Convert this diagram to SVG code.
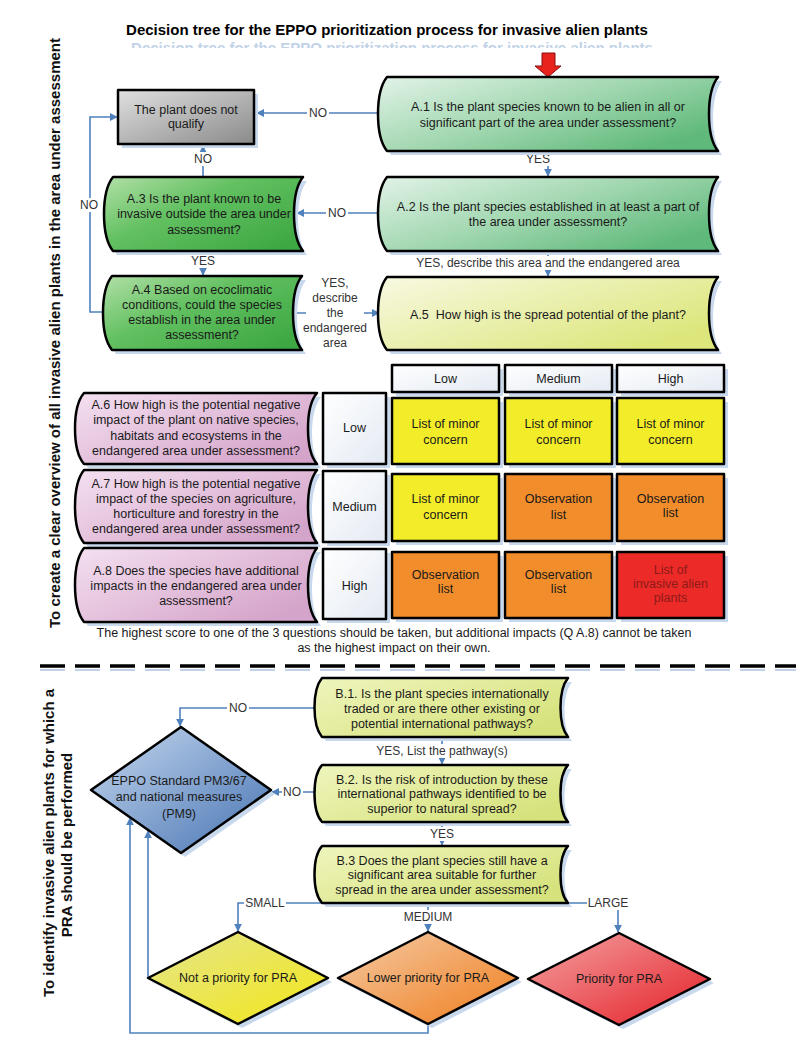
<svg xmlns="http://www.w3.org/2000/svg" width="800" height="1046" viewBox="0 0 800 1046">
<defs>
<style>
text{font-family:"Liberation Sans",Arial,sans-serif;}
.t{font-size:12.5px;fill:#1a1a1a;text-anchor:middle;}
.lb{font-size:12px;fill:#333;text-anchor:middle;}
.ttl{font-size:15px;font-weight:bold;fill:#000;text-anchor:middle;}
.side{font-size:15px;font-weight:bold;fill:#111;text-anchor:middle;}
.b{stroke:#000;stroke-width:2.5;stroke-linejoin:round;}
.sh{fill:#c8d8ed;stroke:none;}
.c{fill:none;stroke:#4f81bd;stroke-width:1.6;}
.ca{fill:none;stroke:#4f81bd;stroke-width:1.6;marker-end:url(#ah);}
.bg{fill:#fff;stroke:none;}
</style>
<marker id="ah" viewBox="0 0 10 10" refX="9" refY="5" markerWidth="8" markerHeight="8" markerUnits="userSpaceOnUse" orient="auto">
<path d="M0,0 L10,5 L0,10 z" fill="#4f81bd"/>
</marker>
<linearGradient id="gGreenL" x1="0" y1="0" x2="1" y2="0.7"><stop offset="0" stop-color="#e2f3e8"/><stop offset="0.55" stop-color="#9fd6ae"/><stop offset="1" stop-color="#5fb97a"/></linearGradient>
<linearGradient id="gGreenD" x1="0" y1="0" x2="1" y2="0.8"><stop offset="0" stop-color="#b2e0a8"/><stop offset="0.45" stop-color="#62c060"/><stop offset="1" stop-color="#3ea843"/></linearGradient>
<linearGradient id="gYel" x1="0" y1="0" x2="1" y2="0.7"><stop offset="0" stop-color="#f8f9e2"/><stop offset="1" stop-color="#dce67a"/></linearGradient>
<linearGradient id="gBY" x1="0" y1="0" x2="1" y2="0.7"><stop offset="0" stop-color="#eff5bd"/><stop offset="1" stop-color="#d6e27c"/></linearGradient>
<linearGradient id="gPink" x1="0" y1="0" x2="1" y2="0.7"><stop offset="0" stop-color="#f4e0f0"/><stop offset="1" stop-color="#d5a4ca"/></linearGradient>
<linearGradient id="gGrey" x1="0" y1="0" x2="1" y2="1"><stop offset="0" stop-color="#e0e0e0"/><stop offset="1" stop-color="#8a8a8a"/></linearGradient>
<linearGradient id="gWhite" x1="0" y1="0" x2="1" y2="1"><stop offset="0" stop-color="#ffffff"/><stop offset="1" stop-color="#e4eaf3"/></linearGradient>
<linearGradient id="gBlue" x1="0" y1="0" x2="1" y2="1"><stop offset="0" stop-color="#c6d8ef"/><stop offset="1" stop-color="#4673b2"/></linearGradient>
<linearGradient id="gDY" x1="0" y1="0" x2="1" y2="1"><stop offset="0" stop-color="#e4e58e"/><stop offset="1" stop-color="#f3e716"/></linearGradient>
<linearGradient id="gOr" x1="0" y1="0" x2="1" y2="1"><stop offset="0" stop-color="#f4cba6"/><stop offset="1" stop-color="#f07d1c"/></linearGradient>
<linearGradient id="gRed" x1="0" y1="0" x2="1" y2="1"><stop offset="0" stop-color="#f4a3a3"/><stop offset="1" stop-color="#e41e26"/></linearGradient>
<clipPath id="refl"><rect x="100" y="41" width="600" height="7"/></clipPath>
</defs>
<rect width="800" height="1046" fill="#fff"/>

<g id="title">
<text class="ttl" x="392" y="53" style="fill:#c2d3e8" clip-path="url(#refl)">Decision tree for the EPPO prioritization process for invasive alien plants</text>
<text class="ttl" x="387" y="35">Decision tree for the EPPO prioritization process for invasive alien plants</text>
</g>

<g id="side-labels">
<text class="side" transform="translate(60,333) rotate(-90)">To create a clear overview of all invasive alien plants in the area under assessment</text>
<text class="side" transform="translate(54,843) rotate(-90)">To identify invasive alien plants for which a</text>
<text class="side" transform="translate(72,845) rotate(-90)">PRA should be performed</text>
</g>

<g id="separator">
<line x1="40" y1="670" x2="796" y2="670" stroke="#bfd2ea" stroke-width="2" stroke-dasharray="25 10"/>
<line x1="40" y1="666" x2="796" y2="666" stroke="#000" stroke-width="3.5" stroke-dasharray="25 10"/>
</g>

<g id="connectors">
<polygon points="542,53 555,53 555,66 561,66 548,77 535,66 542,66" fill="#e8221c" stroke="#8a1010" stroke-width="1"/>
<path class="ca" d="M379,113 H257"/>
<path class="ca" d="M548,151 V176"/>
<path class="ca" d="M381,213 H297"/>
<path class="ca" d="M203,177 V146"/>
<path class="ca" d="M548,251 V276"/>
<path class="ca" d="M203,251 V275"/>
<path class="ca" d="M294,313 H379"/>
<path class="ca" d="M102,312 H90 V117 H117"/>
<path class="ca" d="M316,708 H180 V726"/>
<path class="ca" d="M442,737 V764"/>
<path class="ca" d="M316,792 H272"/>
<path class="ca" d="M442,822 V845"/>
<path class="ca" d="M322,903 H238 V931"/>
<path class="ca" d="M428,903 V931"/>
<path class="ca" d="M568,903 H618 V932"/>
<path class="ca" d="M148,977 V831"/>
<path class="ca" d="M428,1024 V1033 H130 V818"/>
<rect class="bg" x="307" y="106" width="22" height="14"/><text class="lb" x="318" y="117.3">NO</text>
<rect class="bg" x="524" y="152" width="28" height="14"/><text class="lb" x="538" y="163.3">YES</text>
<rect class="bg" x="326" y="206" width="22" height="14"/><text class="lb" x="337" y="217.3">NO</text>
<rect class="bg" x="192" y="152" width="22" height="14"/><text class="lb" x="203" y="163.3">NO</text>
<rect class="bg" x="189" y="254" width="28" height="14"/><text class="lb" x="203" y="265.3">YES</text>
<rect class="bg" x="408" y="256" width="280" height="14"/><text class="lb" x="548" y="267.3">YES, describe this area and the endangered area</text>
<rect class="bg" x="79" y="198" width="22" height="14"/><text class="lb" x="89" y="209.3">NO</text>
<rect class="bg" x="306" y="276" width="58" height="74"/>
<text class="lb" x="335" y="287.3">YES,</text>
<text class="lb" x="335" y="302.3">describe</text>
<text class="lb" x="335" y="317.3">the</text>
<text class="lb" x="335" y="332.3">endangered</text>
<text class="lb" x="335" y="347.3">area</text>
<rect class="bg" x="227" y="701" width="22" height="14"/><text class="lb" x="238" y="712.3">NO</text>
<rect class="bg" x="372" y="744" width="140" height="14"/><text class="lb" x="442" y="755.3">YES, List the pathway(s)</text>
<rect class="bg" x="282" y="785" width="21" height="14"/><text class="lb" x="292" y="796.3">NO</text>
<rect class="bg" x="428" y="827" width="28" height="14"/><text class="lb" x="442" y="838.3">YES</text>
<rect class="bg" x="244" y="896" width="42" height="14"/><text class="lb" x="265" y="907.3">SMALL</text>
<rect class="bg" x="404" y="910" width="48" height="14"/><text class="lb" x="428" y="921.3">MEDIUM</text>
<rect class="bg" x="587" y="896" width="42" height="14"/><text class="lb" x="608" y="907.3">LARGE</text>
</g>

<g id="not-qualify">
<rect class="sh" x="122" y="94" width="136" height="54"/>
<rect class="b" x="118" y="90" width="136" height="54" fill="url(#gGrey)"/>
<text class="t" x="186" y="113.5">The plant does not</text>
<text class="t" x="186" y="128">qualify</text>
</g>

<g id="A1">
<path class="sh" transform="translate(4,4)" d="M387,77 H718 C706,92 706,136 718,151 H387 C375,136 375,92 387,77 Z"/>
<path class="b" fill="url(#gGreenL)" d="M387,77 H718 C706,92 706,136 718,151 H387 C375,136 375,92 387,77 Z"/>
<text class="t" x="548" y="110.5">A.1 Is the plant species known to be alien in all or</text>
<text class="t" x="548" y="126.5">significant part of the area under assessment?</text>
</g>

<g id="A2">
<path class="sh" transform="translate(4,4)" d="M387,177 H718 C706,192 706,236 718,251 H387 C375,236 375,192 387,177 Z"/>
<path class="b" fill="url(#gGreenL)" d="M387,177 H718 C706,192 706,236 718,251 H387 C375,236 375,192 387,177 Z"/>
<text class="t" x="548" y="210.5">A.2 Is the plant species established in at least a part of</text>
<text class="t" x="548" y="225.5">the area under assessment?</text>
</g>

<g id="A3">
<path class="sh" transform="translate(4,4)" d="M113,177 H303 C291,192 291,236 303,251 H113 C101,236 101,192 113,177 Z"/>
<path class="b" fill="url(#gGreenD)" d="M113,177 H303 C291,192 291,236 303,251 H113 C101,236 101,192 113,177 Z"/>
<text class="t" x="204" y="202.5">A.3 Is the plant known to be</text>
<text class="t" x="204" y="218">invasive outside the area under</text>
<text class="t" x="204" y="233.5">assessment?</text>
</g>

<g id="A4">
<path class="sh" transform="translate(4,4)" d="M112,276 H302 C290,291 290,335 302,350 H112 C100,335 100,291 112,276 Z"/>
<path class="b" fill="url(#gGreenD)" d="M112,276 H302 C290,291 290,335 302,350 H112 C100,335 100,291 112,276 Z"/>
<text class="t" x="202" y="293.5">A.4 Based on ecoclimatic</text>
<text class="t" x="202" y="308.5">conditions, could the species</text>
<text class="t" x="202" y="323.5">establish in the area under</text>
<text class="t" x="202" y="338.5">assessment?</text>
</g>

<g id="A5">
<path class="sh" transform="translate(4,4)" d="M387,277 H718 C706,292 706,335 718,350 H387 C375,335 375,292 387,277 Z"/>
<path class="b" fill="url(#gYel)" d="M387,277 H718 C706,292 706,335 718,350 H387 C375,335 375,292 387,277 Z"/>
<text class="t" x="548" y="318.5" style="white-space:pre">A.5  How high is the spread potential of the plant?</text>
</g>

<g id="col-headers">
<rect class="sh" x="396" y="369" width="107" height="27"/>
<rect class="sh" x="509" y="369" width="107" height="27"/>
<rect class="sh" x="621" y="369" width="107" height="27"/>
<rect class="b" x="392" y="365" width="107" height="27" fill="url(#gWhite)"/>
<rect class="b" x="505" y="365" width="107" height="27" fill="url(#gWhite)"/>
<rect class="b" x="617" y="365" width="107" height="27" fill="url(#gWhite)"/>
<text class="t" x="445.5" y="383">Low</text>
<text class="t" x="558.5" y="383">Medium</text>
<text class="t" x="670.5" y="383">High</text>
</g>

<g id="A6">
<path class="sh" transform="translate(4,4)" d="M84,393 H317 C305,407 305,450 317,464 H84 C72,450 72,407 84,393 Z"/>
<path class="b" fill="url(#gPink)" d="M84,393 H317 C305,407 305,450 317,464 H84 C72,450 72,407 84,393 Z"/>
<text class="t" x="196" y="408.5">A.6 How high is the potential negative</text>
<text class="t" x="196" y="424">impact of the plant on native species,</text>
<text class="t" x="196" y="439.5">habitats and ecosystems in the</text>
<text class="t" x="196" y="455">endangered area under assessment?</text>
</g>

<g id="A7">
<path class="sh" transform="translate(4,4)" d="M84,470 H317 C305,485 305,528 317,543 H84 C72,528 72,485 84,470 Z"/>
<path class="b" fill="url(#gPink)" d="M84,470 H317 C305,485 305,528 317,543 H84 C72,528 72,485 84,470 Z"/>
<text class="t" x="196" y="487.5">A.7 How high is the potential negative</text>
<text class="t" x="196" y="502.5">impact of the species on agriculture,</text>
<text class="t" x="196" y="517.5">horticulture and forestry in the</text>
<text class="t" x="196" y="532.5">endangered area under assessment?</text>
</g>

<g id="A8">
<path class="sh" transform="translate(4,4)" d="M84,548 H317 C305,563 305,607 317,622 H84 C72,607 72,563 84,548 Z"/>
<path class="b" fill="url(#gPink)" d="M84,548 H317 C305,563 305,607 317,622 H84 C72,607 72,563 84,548 Z"/>
<text class="t" x="196" y="574.5">A.8 Does the species have additional</text>
<text class="t" x="196" y="589.5">impacts in the endangered area under</text>
<text class="t" x="196" y="604.5">assessment?</text>
</g>

<g id="row-headers">
<rect class="sh" x="327" y="397" width="63" height="71"/>
<rect class="sh" x="327" y="475" width="63" height="71"/>
<rect class="sh" x="327" y="553" width="63" height="70"/>
<rect class="b" x="323" y="393" width="63" height="71" fill="url(#gWhite)"/>
<rect class="b" x="323" y="471" width="63" height="71" fill="url(#gWhite)"/>
<rect class="b" x="323" y="549" width="63" height="70" fill="url(#gWhite)"/>
<text class="t" x="354.5" y="431.5">Low</text>
<text class="t" x="354.5" y="510.5">Medium</text>
<text class="t" x="354.5" y="589.5">High</text>
</g>

<g id="matrix">
<g fill="#c8d8ed">
<rect x="396" y="402" width="107" height="66"/><rect x="509" y="402" width="107" height="66"/><rect x="621" y="402" width="107" height="66"/>
<rect x="396" y="478" width="107" height="67"/><rect x="509" y="478" width="107" height="67"/><rect x="621" y="478" width="107" height="67"/>
<rect x="396" y="556" width="107" height="66"/><rect x="509" y="556" width="107" height="66"/><rect x="621" y="556" width="107" height="66"/>
</g>
<rect class="b" x="392" y="398" width="107" height="66" fill="#f3ec29"/>
<rect class="b" x="505" y="398" width="107" height="66" fill="#f3ec29"/>
<rect class="b" x="617" y="398" width="107" height="66" fill="#f3ec29"/>
<rect class="b" x="392" y="474" width="107" height="67" fill="#f3ec29"/>
<rect class="b" x="505" y="474" width="107" height="67" fill="#f28d2b"/>
<rect class="b" x="617" y="474" width="107" height="67" fill="#f28d2b"/>
<rect class="b" x="392" y="552" width="107" height="66" fill="#f28d2b"/>
<rect class="b" x="505" y="552" width="107" height="66" fill="#f28d2b"/>
<rect class="b" x="617" y="552" width="107" height="66" fill="#ec2a27"/>
<text class="t" x="445.5" y="427.5">List of minor</text><text class="t" x="445.5" y="443.5">concern</text>
<text class="t" x="558.5" y="427.5">List of minor</text><text class="t" x="558.5" y="443.5">concern</text>
<text class="t" x="670.5" y="427.5">List of minor</text><text class="t" x="670.5" y="443.5">concern</text>
<text class="t" x="445.5" y="502.5">List of minor</text><text class="t" x="445.5" y="518.5">concern</text>
<text class="t" x="558.5" y="502.5">Observation</text><text class="t" x="558.5" y="518.5">list</text>
<text class="t" x="670.5" y="502.5">Observation</text><text class="t" x="670.5" y="517">list</text>
<text class="t" x="445.5" y="578.5">Observation</text><text class="t" x="445.5" y="593">list</text>
<text class="t" x="558.5" y="578.5">Observation</text><text class="t" x="558.5" y="593">list</text>
<text class="t" x="670.5" y="573.5" style="fill:#8e1a1a">List of</text>
<text class="t" x="670.5" y="587.5" style="fill:#8e1a1a">invasive alien</text>
<text class="t" x="670.5" y="602" style="fill:#8e1a1a">plants</text>
</g>

<g id="footnote">
<text class="t" x="394" y="637">The highest score to one of the 3 questions should be taken, but additional impacts (Q A.8) cannot be taken</text>
<text class="t" x="394" y="652">as the highest impact on their own.</text>
</g>

<g id="B1">
<path class="sh" transform="translate(4,4)" d="M322,678 H568 C558,690 558,725 568,737 H322 C312,725 312,690 322,678 Z"/>
<path class="b" fill="url(#gBY)" d="M322,678 H568 C558,690 558,725 568,737 H322 C312,725 312,690 322,678 Z"/>
<text class="t" x="442" y="697.5">B.1. Is the plant species internationally</text>
<text class="t" x="442" y="712.5">traded or are there other existing or</text>
<text class="t" x="442" y="727.5">potential international pathways?</text>
</g>

<g id="B2">
<path class="sh" transform="translate(4,4)" d="M322,765 H568 C558,776 558,811 568,822 H322 C312,811 312,776 322,765 Z"/>
<path class="b" fill="url(#gBY)" d="M322,765 H568 C558,776 558,811 568,822 H322 C312,811 312,776 322,765 Z"/>
<text class="t" x="442" y="783.5">B.2. Is the risk of introduction by these</text>
<text class="t" x="442" y="798">international pathways identified to be</text>
<text class="t" x="442" y="812.5">superior to natural spread?</text>
</g>

<g id="B3">
<path class="sh" transform="translate(4,4)" d="M322,846 H568 C558,857 558,892 568,903 H322 C312,892 312,857 322,846 Z"/>
<path class="b" fill="url(#gBY)" d="M322,846 H568 C558,857 558,892 568,903 H322 C312,892 312,857 322,846 Z"/>
<text class="t" x="442" y="864.5">B.3 Does the plant species still have a</text>
<text class="t" x="442" y="879">significant area suitable for further</text>
<text class="t" x="442" y="894">spread in the area under assessment?</text>
</g>

<g id="EPPO">
<polygon class="sh" points="185,731 275,794 185,857 95,794"/>
<polygon class="b" fill="url(#gBlue)" points="181,727 271,790 181,853 91,790"/>
<text class="t" x="179" y="784.5">EPPO Standard PM3/67</text>
<text class="t" x="179" y="801">and national measures</text>
<text class="t" x="179" y="817.5">(PM9)</text>
</g>

<g id="not-priority">
<polygon class="sh" points="242,936 332,982 242,1028 152,982"/>
<polygon class="b" fill="url(#gDY)" points="238,932 328,978 238,1024 148,978"/>
<text class="t" x="238" y="982">Not a priority for PRA</text>
</g>

<g id="lower-priority">
<polygon class="sh" points="432,936 522,982 432,1028 342,982"/>
<polygon class="b" fill="url(#gOr)" points="428,932 518,978 428,1024 338,978"/>
<text class="t" x="428" y="982">Lower priority for PRA</text>
</g>

<g id="priority">
<polygon class="sh" points="623,937 714,983 623,1029 532,983"/>
<polygon class="b" fill="url(#gRed)" points="619,933 710,979 619,1025 528,979"/>
<text class="t" x="619" y="983">Priority for PRA</text>
</g>
</svg>
